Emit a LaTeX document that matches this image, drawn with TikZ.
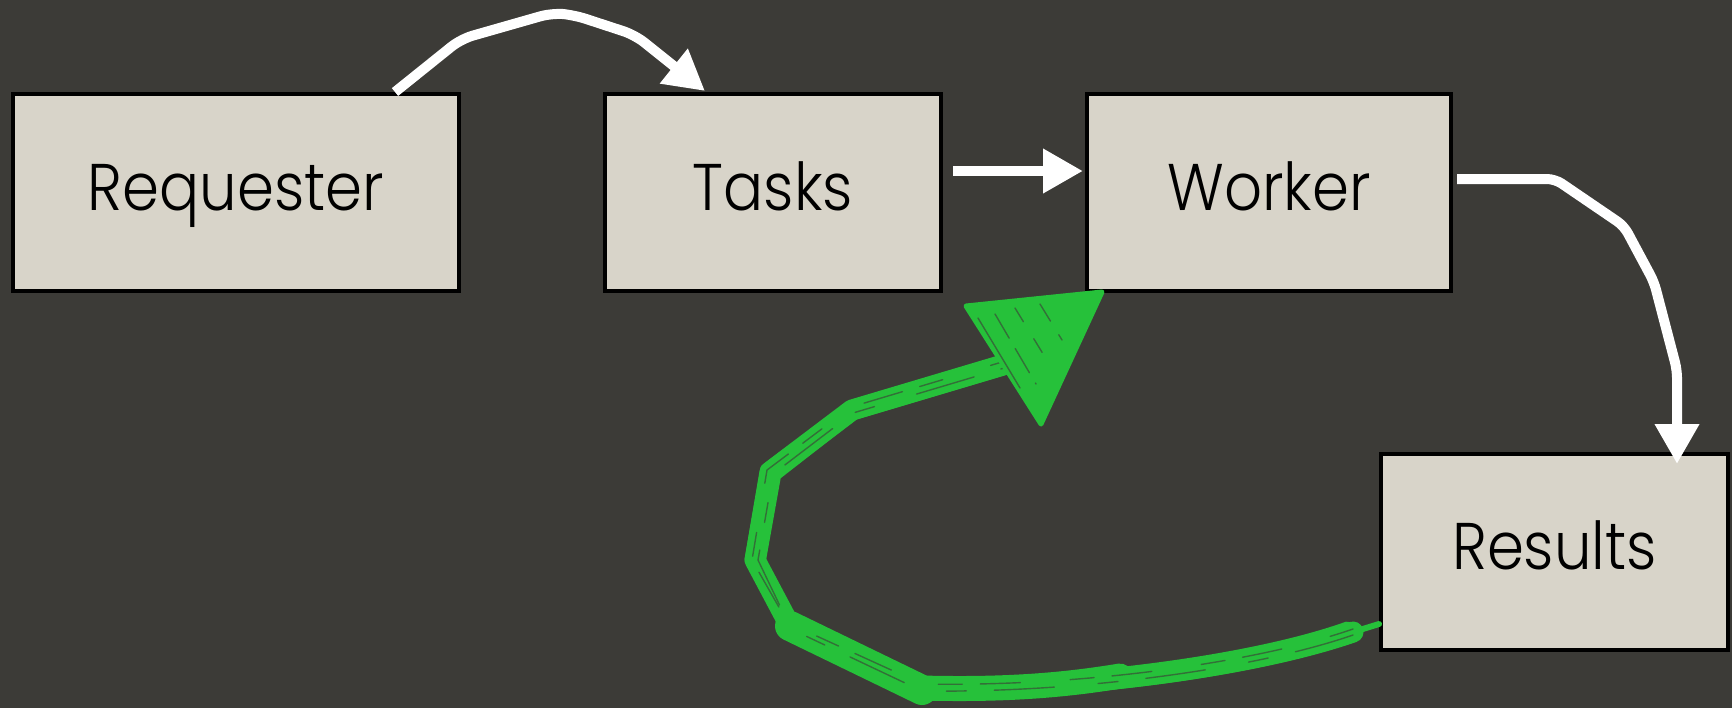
\documentclass[tikz,border=0pt]{standalone}
\usepackage{fontspec}
\setmainfont{Poppins}[FakeStretch=0.9,UprightFont=* Light]
\usetikzlibrary{arrows.meta,calc}
\definecolor{bgc}{RGB}{60,59,55}
\definecolor{boxc}{RGB}{216,212,201}
\definecolor{grn}{RGB}{38,193,58}
\begin{document}
\begin{tikzpicture}[x=0.5pt,y=-0.5pt,
  box/.style={draw=black,line width=2pt,fill=boxc,minimum height=98.5pt,inner sep=0pt,
    font=\fontsize{33}{36}\selectfont,text height=23.5pt,text depth=6pt},
  warrow/.style={draw=white,line width=5pt,-{Triangle[length=20pt,width=21pt]}},
  gstroke/.style={draw=grn,line join=round,line cap=round},
  streak/.style={draw=bgc,line width=0.7pt,opacity=0.6,line cap=round}]
\fill[bgc] (0,0) rectangle (1732,708);
\useasboundingbox (0,0) rectangle (1732,708);

\node[box,minimum width=223pt] (req) at (236,192.5) {Requester};
\node[box,minimum width=168pt] (tasks) at (773,192.5) {Tasks};
\node[box,minimum width=182pt] (worker) at (1269,192.5) {Worker};
\node[box,minimum width=173.5pt,minimum height=98pt] (res) at (1554.5,552) {Results};

% white connectors
\draw[warrow,rounded corners=6pt] ([xshift=79.5pt]req.north) -- (461,39) -- (552,13) -- (574,15) -- (635,35) -- ([xshift=-34pt,yshift=0.5pt]tasks.north);
\draw[warrow] ([xshift=5pt,yshift=10.75pt]tasks.east) -- ([xshift=-1pt,yshift=10.75pt]worker.west);
\draw[warrow,rounded corners=4pt] ([xshift=2pt,yshift=6.75pt]worker.east) -- (1555,179) -- (1624,226) -- (1654,282) -- (1677,370) -- ([xshift=61.25pt,yshift=-6pt]res.north);

% green hand-drawn connector
\coordinate (g0) at ($(res.west)+(-26,80)$);
\coordinate (c1) at (922,688);
\coordinate (c2) at (790,626);
\coordinate (c3) at (755,560);
\coordinate (c4) at (770,472);
\coordinate (c5) at (852,410);
\coordinate (gEnd) at ($(worker.south west)+(-82,72)$);
\draw[gstroke,line width=10.5pt] (g0) .. controls (1255,666) and (1080,690) .. (c1) -- (c2) -- (c3) -- (c4) -- (c5) -- (gEnd);
\draw[gstroke,line width=4pt] ([shift={(1,6)}]g0) .. controls (1255,672) and (1080,697) .. ([shift={(0,7)}]c1) -- ([shift={(3,7)}]c2) -- ([shift={(7,0)}]c3) -- ([shift={(7,4)}]c4) -- ([shift={(2,6)}]c5) -- ([shift={(2,6)}]gEnd);
\draw[gstroke,line width=3.5pt] ([shift={(-6,-7)}]g0) .. controls (1255,658) and (1080,682) .. ([shift={(0,-7)}]c1) -- ([shift={(-4,-6)}]c2) -- ([shift={(-7,0)}]c3) -- ([shift={(-6,-4)}]c4) -- ([shift={(-2,-6)}]c5) -- ([shift={(-2,-6)}]gEnd);
\draw[gstroke,line width=3pt] (g0) -- ($(res.west)+(0,72)$);
\draw[gstroke,line width=15pt] ([shift={(0,2)}]c1) -- (c2);
\draw[gstroke,line width=12.5pt] (c1) .. controls (1000,690) and (1060,686) .. (1120,676);
\draw[streak,dash pattern=on 30pt off 14pt on 10pt off 22pt] ([shift={(0,3)}]g0) .. controls (1255,669) and (1080,693) .. ([shift={(0,3)}]c1) -- ([shift={(1,3)}]c2) -- ([shift={(3,0)}]c3) -- ([shift={(3,2)}]c4) -- ([shift={(1,3)}]c5) -- ([shift={(1,3)}]gEnd);
\draw[streak,dash pattern=on 12pt off 25pt on 20pt off 9pt] ([shift={(0,-3)}]g0) .. controls (1255,663) and (1080,687) .. ([shift={(0,-4)}]c1) -- ([shift={(-2,-3)}]c2) -- ([shift={(-3,0)}]c3) -- ([shift={(-3,-2)}]c4) -- ([shift={(-1,-3)}]c5) -- ([shift={(-1,-3)}]gEnd);

% green arrowhead
\filldraw[grn,line width=2.5pt,line join=round]
  ($(worker.south west)+(17,-1)$) -- ($(worker.south west)+(-119,13)$) -- ($(worker.south west)+(-44,131)$) -- cycle;
\draw[streak] (978,318) -- (1020,388);
\draw[streak,dash pattern=on 14pt off 6pt] (995,314) -- (1036,384);
\draw[streak,dash pattern=on 8pt off 10pt] (1015,308) -- (1048,362);
\draw[streak,dash pattern=on 10pt off 8pt] (1040,304) -- (1062,340);
\end{tikzpicture}
\end{document}
